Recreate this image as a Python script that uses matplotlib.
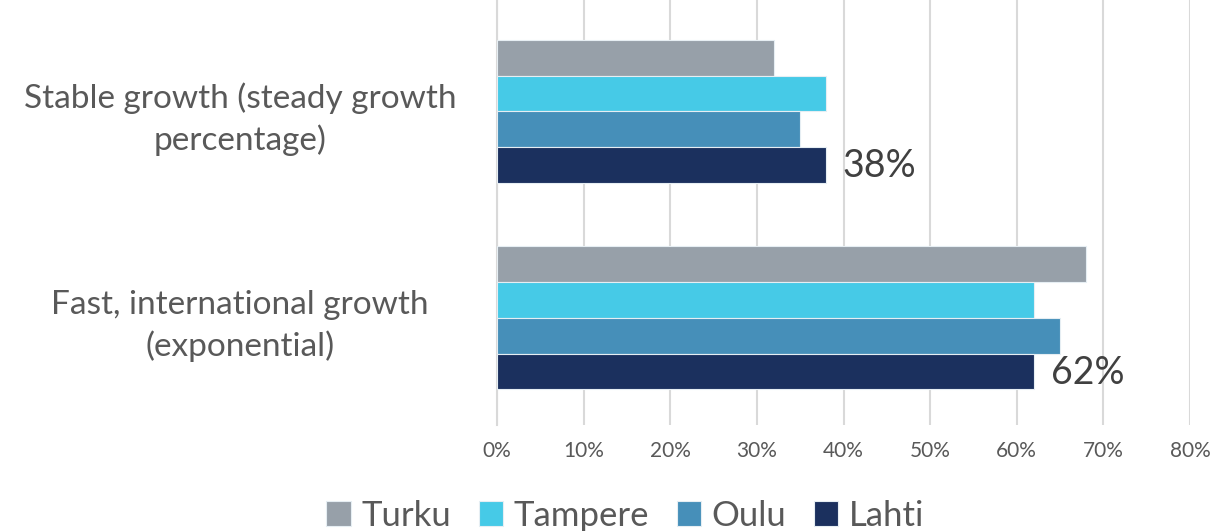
import matplotlib
matplotlib.use("Agg")
import matplotlib.pyplot as plt
import numpy as np

categories = ["Stable growth (steady growth\npercentage)", "Fast, international growth\n(exponential)"]
series_names = ["Turku", "Tampere", "Oulu", "Lahti"]
turku = [32, 68]
tampere = [38, 62]
oulu = [35, 65]
lahti = [38, 62]
label_texts = ["38%", "62%"]
xticks = [0, 10, 20, 30, 40, 50, 60, 70, 80]
xtick_labels = ["0%", "10%", "20%", "30%", "40%", "50%", "60%", "70%", "80%"]

colors = ["#97A0A9", "#46CAE7", "#468FB9", "#1B305E"]

plt.rcParams['font.family'] = ['Lato', 'DejaVu Sans']

fig = plt.figure(figsize=(12.14, 5.31), dpi=100)
ax = fig.add_axes([497/1214, 0.2, (1190-497)/1214, 0.8])

y = np.arange(len(categories))
h = 0.173
all_series = [turku, tampere, oulu, lahti]
for i, (name, vals) in enumerate(zip(series_names, all_series)):
    off = (i - 1.5) * h
    ax.barh(y + off, vals, height=h, color=colors[i], label=name,
            edgecolor="#E6EEF3", linewidth=0.8, zorder=3)

for j, txt in enumerate(label_texts):
    ax.annotate(txt, xy=(lahti[j], y[j] + 1.5 * h), xytext=(12, -1),
                textcoords="offset points", va="center", ha="left",
                fontsize=27, color="#404040")

ax.set_xlim(0, 80)
ax.set_ylim(1.518, -0.54)
ax.set_xticks(xticks)
ax.set_xticklabels(xtick_labels, fontsize=15, color="#595959")
ax.set_yticks(y)
ax.set_yticklabels(categories, fontsize=24, color="#595959", ha="center", linespacing=1.4)
ax.tick_params(axis="both", length=0)
ax.tick_params(axis="x", pad=12)
ax.tick_params(axis="y", pad=185)
ax.grid(axis="x", color="#D9D9D9", linewidth=1.5, zorder=0)
for s in ["top", "right", "bottom"]:
    ax.spines[s].set_visible(False)
ax.spines["left"].set_color("#D9D9D9")
ax.spines["left"].set_linewidth(1.5)

leg = fig.legend(loc="lower center", bbox_to_anchor=(0.515, -0.06), ncol=4, frameon=False,
                 fontsize=25, handlelength=0.7, handleheight=0.7, handletextpad=0.3,
                 columnspacing=0.8, labelcolor="#595959")

fig.savefig("out.png", dpi=100)
